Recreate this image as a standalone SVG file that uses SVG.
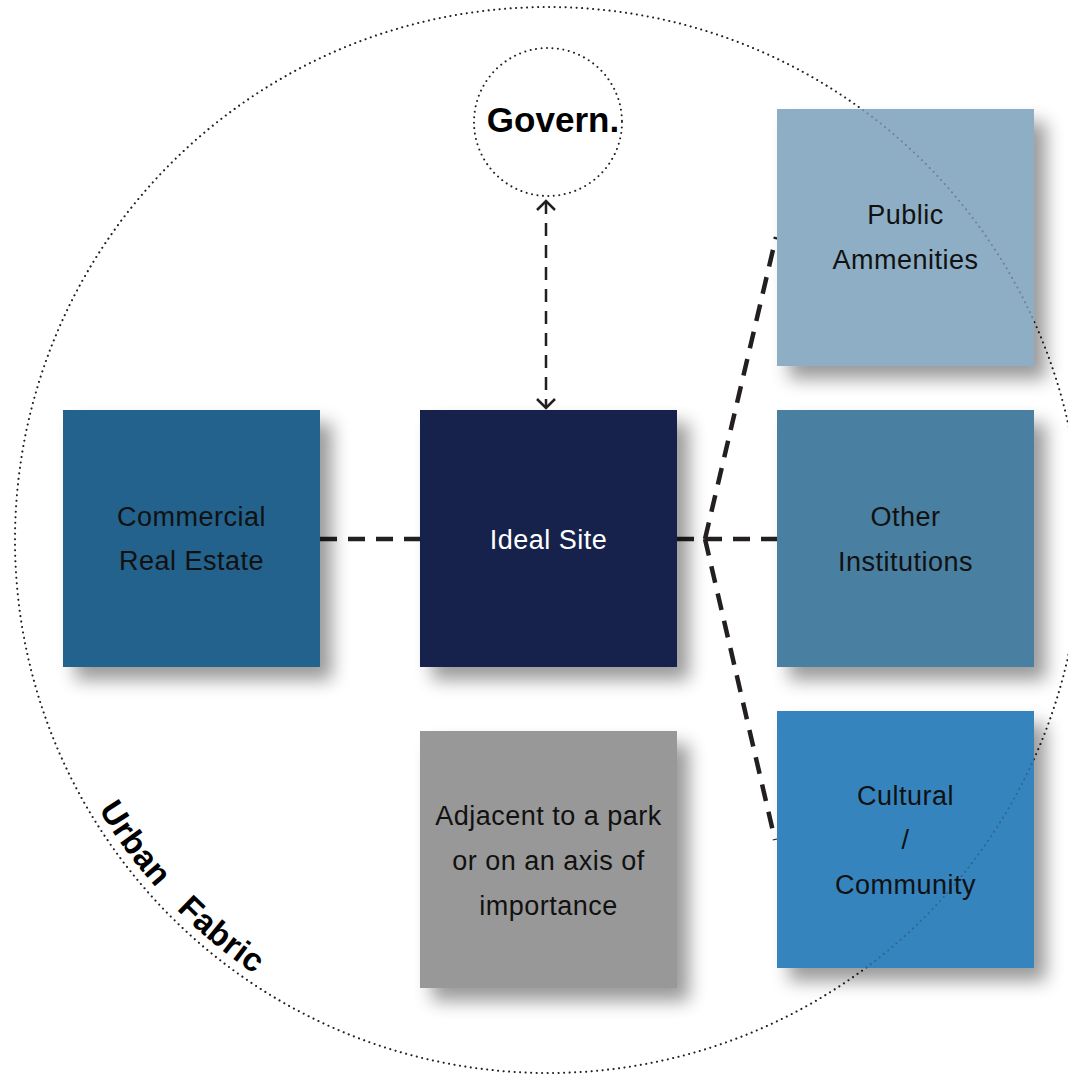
<svg xmlns="http://www.w3.org/2000/svg" xmlns:xlink="http://www.w3.org/1999/xlink" width="1068" height="1075" viewBox="0 0 1068 1075">
  <style>
    .box text { font-family: "Liberation Sans", Arial, sans-serif; font-size: 27px; letter-spacing: 0.5px; fill: #111; text-anchor: middle; }
    .box rect { filter: url(#shadow); }
    .dots { fill: none; stroke: #231f20; stroke-width: 2; stroke-linecap: round; stroke-dasharray: 0.01 5.5; }
    .conn { fill: none; stroke: #231f20; stroke-width: 4.5; stroke-dasharray: 17 11; }
    .thin { fill: none; stroke: #231f20; stroke-width: 2.5; stroke-dasharray: 13 9; }
    .bold { font-family: "Liberation Sans", Arial, sans-serif; font-weight: bold; fill: #000; }
  </style>
  <defs>
    <filter id="shadow" x="-20%" y="-20%" width="160%" height="160%">
      <feGaussianBlur in="SourceAlpha" stdDeviation="9"/>
      <feOffset dx="12" dy="13" result="b"/>
      <feComponentTransfer><feFuncA type="linear" slope="0.4"/></feComponentTransfer>
      <feMerge><feMergeNode/><feMergeNode in="SourceGraphic"/></feMerge>
    </filter>
    <marker id="chev" viewBox="0 0 20 20" refX="13" refY="10" markerWidth="20" markerHeight="20" markerUnits="userSpaceOnUse" orient="auto-start-reverse">
      <path d="M4,1 L13,10 L4,19" fill="none" stroke="#231f20" stroke-width="2.5"/>
    </marker>
    <path id="arcText" d="M 55.6 719.2 A 524 524 0 0 0 368.8 1032.4"/>
  </defs>

  <g id="urban-fabric">
    <circle id="bigCircle" class="dots" cx="548" cy="540" r="533"/>
    <text class="bold" font-size="33" letter-spacing="0.5" xml:space="preserve"><textPath href="#arcText" startOffset="100">Urban   Fabric</textPath></text>
  </g>

  <g id="connectors">
    <line class="conn" x1="320" y1="539" x2="420" y2="539"/>
    <line class="conn" x1="677" y1="539" x2="777" y2="539"/>
    <line class="conn" x1="705" y1="539" x2="776" y2="237"/>
    <line class="conn" x1="705" y1="539" x2="775" y2="840"/>
    <line class="thin" x1="546" y1="201" x2="546" y2="408" marker-start="url(#chev)" marker-end="url(#chev)"/>
  </g>

  <g id="govern">
    <circle class="dots" cx="548" cy="122" r="74" stroke-dasharray="0.01 4.4"/>
    <text class="bold" x="553" y="132" font-size="35" text-anchor="middle">Govern.</text>
  </g>

  <g id="commercial" class="box">
    <rect x="63" y="410" width="257" height="257" fill="#20628c"/>
    <text x="191.5" y="526">Commercial</text>
    <text x="191.5" y="570">Real Estate</text>
  </g>

  <g id="ideal-site" class="box">
    <rect x="420" y="410" width="257" height="257" fill="#16224b"/>
    <text x="548.5" y="549" style="fill:#fff">Ideal Site</text>
  </g>

  <g id="public" class="box">
    <rect x="777" y="109" width="257" height="257" fill="#8daec4"/>
    <text x="905.5" y="224">Public</text>
    <text x="905.5" y="269">Ammenities</text>
  </g>

  <g id="other" class="box">
    <rect x="777" y="410" width="257" height="257" fill="#4a7fa0"/>
    <text x="905.5" y="526">Other</text>
    <text x="905.5" y="571">Institutions</text>
  </g>

  <g id="cultural" class="box">
    <rect x="777" y="711" width="257" height="257" fill="#3484be"/>
    <text x="905.5" y="805">Cultural</text>
    <text x="905.5" y="849">/</text>
    <text x="905.5" y="894">Community</text>
  </g>

  <g id="adjacent" class="box">
    <rect x="420" y="731" width="257" height="257" fill="#989898"/>
    <text x="548.5" y="825">Adjacent to a park</text>
    <text x="548.5" y="870">or on an axis of</text>
    <text x="548.5" y="915">importance</text>
  </g>

  <use href="#bigCircle" opacity="0.3"/>
</svg>
